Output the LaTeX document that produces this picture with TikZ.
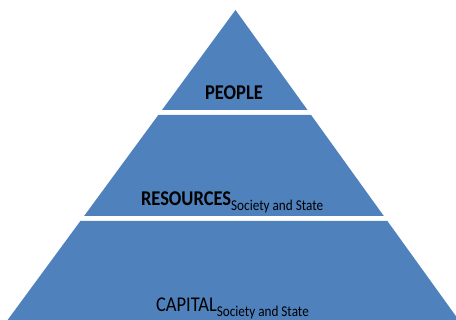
\documentclass[tikz,border=0pt]{standalone}
\usepackage{fontspec}
\setmainfont{Carlito}
\usepackage{tikz}

\definecolor{tierblue}{HTML}{4F81BD}
\newcommand{\tiertext}[1]{\scalebox{0.88}[1]{#1}}
\newcommand{\tiersub}[1]{\raisebox{-5pt}{\fontsize{15}{17}\selectfont\mdseries #1}}

\begin{document}
\begin{tikzpicture}[
            x = 1pt,
            y = -1pt,
            tier/.style = {
                fill = tierblue,
                draw = none
            },
            label/.style = {
                font = \fontsize{21}{24}\selectfont\bfseries,
                inner sep = 0pt,
                outer sep = 0pt,
                anchor = base west
            }
            ]
            \useasboundingbox (0,0) rectangle (456,320);

            \fill[tier] (235.5,10) -- (307.5,110) -- (162,110) -- cycle;
            \fill[tier] (158.3,115) -- (311.1,115) -- (383.8,216) -- (84.1,216) -- cycle;
            \fill[tier] (80.4,221) -- (387.4,221) -- (458.7,320) -- (7.6,320) -- cycle;

            \node[label, anchor=base] (people) at (234,100) {\tiertext{PEOPLE}};
            \node[label] (resources) at (141,206) {\tiertext{RESOURCES\tiersub{Society and State}}};
            \node[label, font=\fontsize{21}{24}\selectfont] (capital) at (156,312) {\tiertext{CAPITAL\tiersub{Society and State}}};
        \end{tikzpicture}
\end{document}
